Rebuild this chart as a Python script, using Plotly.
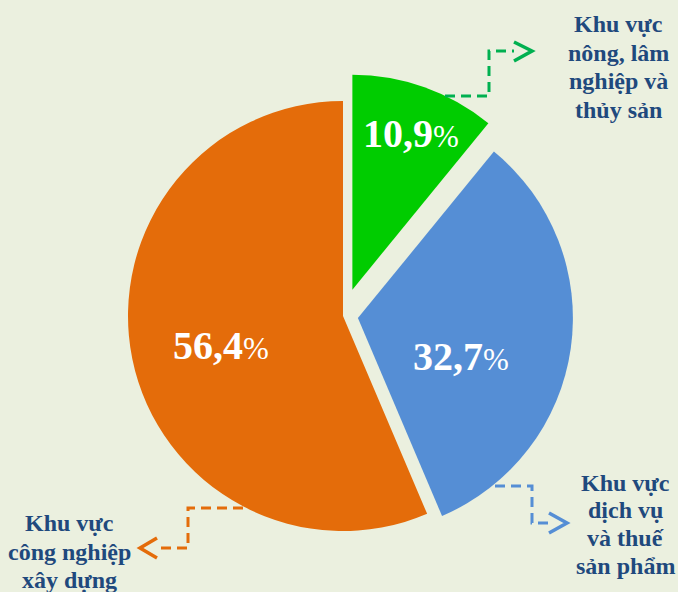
import plotly.graph_objects as go

W, H = 678, 592

# ---- data ----
sectors = ["Khu vực nông, lâm nghiệp và thủy sản",
           "Khu vực dịch vụ và thuế sản phẩm",
           "Khu vực công nghiệp xây dựng"]
shares = [10.9, 32.7, 56.4]
slice_colors = ["#00cc00", "#558ed5", "#e46c0a"]
pulls = [0.13, 0.07, 0.0]
label_lines = [
    ["Khu vực", "nông, lâm", "nghiệp và", "thủy sản"],
    ["Khu vực", "dịch vụ", "và thuế", "sản phẩm"],
    ["Khu vực", "công nghiệp", "xây dựng"],
]
connector_colors = ["#00b050", "#558ed5", "#e46c0a"]

# ---- layout helpers (pixel -> paper) ----
def P(x, y):
    return x / W, 1 - y / H

def path(points):
    s = ""
    for i, (x, y) in enumerate(points):
        px, py = P(x, y)
        s += ("M" if i == 0 else " L") + f" {px:.5f} {py:.5f}"
    return s

cx, cy, r = 343, 316, 215
half = r * (1 + max(pulls))

fig = go.Figure(go.Pie(
    labels=sectors, values=shares, sort=False, direction="clockwise",
    rotation=0, pull=pulls,
    marker=dict(colors=slice_colors, line=dict(width=0)),
    textinfo="none",
    hoverinfo="label+percent", showlegend=False,
    domain=dict(x=[(cx - half) / W, (cx + half) / W],
                y=[(H - cy - half) / H, (H - cy + half) / H]),
))

# connectors: dashed elbow lines + open chevrons
conn_paths = [
    [(445, 96), (489, 96), (489, 51), (514, 51)],
    [(495, 486), (532, 486), (532, 523), (550, 523)],
    [(243, 508), (188, 508), (188, 548), (156, 548)],
]
chevrons = [
    [(514, 42), (532, 51), (514, 61)],
    [(549, 513), (567, 523), (549, 533)],
    [(157, 538), (140, 548), (157, 558)],
]
shapes = []
for pts, chev, col in zip(conn_paths, chevrons, connector_colors):
    shapes.append(dict(type="path", xref="paper", yref="paper", path=path(pts),
                       line=dict(color=col, width=3, dash="10px,6px")))
    shapes.append(dict(type="path", xref="paper", yref="paper", path=path(chev),
                       line=dict(color=col, width=3.5)))

annotations = []
# percentage labels inside slices
pct_pos = [(411, 134), (461, 356), (221, 345)]
for v, (px_, py_) in zip(shares, pct_pos):
    ax, ay = P(px_, py_)
    txt = f"{v:.1f}".replace(".", ",")
    annotations.append(dict(x=ax, y=ay, xref="paper", yref="paper",
                            text=f"<b>{txt}</b><span style='font-size:31px;font-weight:normal'>%</span>",
                            showarrow=False, xanchor="center", yanchor="middle",
                            font=dict(family="Liberation Serif", size=40, color="white")))

# outside labels, one annotation per line
label_pos = [(618, 24, 28.5), (625, 483, 27.5), (69, 523, 28.5)]
for lines, (lx, ly, step) in zip(label_lines, label_pos):
    for k, t in enumerate(lines):
        ax, ay = P(lx, ly + k * step)
        annotations.append(dict(x=ax, y=ay, xref="paper", yref="paper",
                                text=f"<b>{t}</b>", showarrow=False,
                                xanchor="center", yanchor="middle",
                                font=dict(family="Liberation Serif", size=24,
                                          color="#1f497d")))

fig.update_layout(
    width=W, height=H, margin=dict(l=0, r=0, t=0, b=0),
    paper_bgcolor="#ebf0df", plot_bgcolor="#ebf0df",
    separators=",.",
    shapes=shapes, annotations=annotations,
)

fig.write_html("out.html", config={"displayModeBar": False},
               post_script="document.body.style.margin='0';")
